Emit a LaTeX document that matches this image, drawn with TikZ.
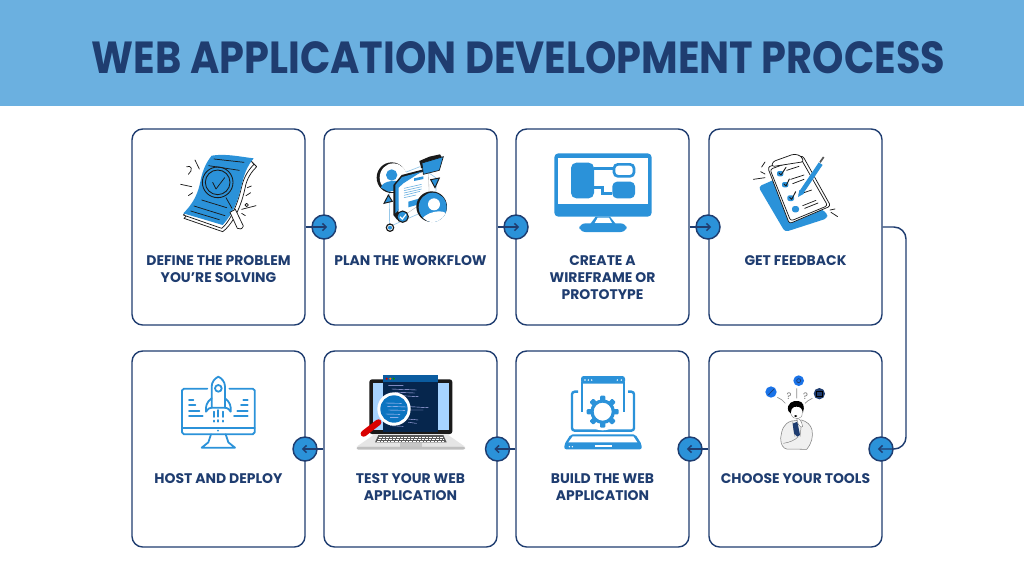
\documentclass[tikz,border=0pt]{standalone}
\usepackage{fontspec}
\usepackage{graphicx}
\setmainfont{Poppins}
\usetikzlibrary{arrows.meta,calc}
\definecolor{band}{HTML}{6BB0E0}
\definecolor{navy}{HTML}{1F3D70}
\definecolor{ico}{HTML}{2B92D9}
\definecolor{ink}{HTML}{1A1A1A}
\definecolor{brightblue}{HTML}{1A73E8}
\definecolor{sky}{HTML}{A6D3FF}
\definecolor{glass}{HTML}{0B74C0}
\definecolor{codebg}{HTML}{06264D}
\definecolor{codebar}{HTML}{0B5CA0}
\tikzset{
  card/.style={draw=navy,line width=1.05pt,rounded corners=8pt,fill=white,minimum width=129.75pt,minimum height=147pt,inner sep=0pt},
  hub/.style={circle,draw=navy,line width=1.1pt,fill=ico,minimum size=18pt,inner sep=0pt},
  link/.style={draw=navy,line width=1.1pt,-{Straight Barb[length=2.8pt,width=5.4pt]}},
  lab/.style={anchor=north,align=center,text=navy,font=\bfseries\fontsize{10.45}{12.75}\selectfont,inner sep=0pt},
  zoomed/.style={x=0.25pt,y=-0.25pt},
  iconline/.style={draw=ico,line width=1.35pt,line cap=round,line join=round},
  thin ink/.style={draw=ink,line width=.55pt,line cap=round,line join=round},
}
\begin{document}
\begin{tikzpicture}[x=0.75pt,y=-0.75pt]
\useasboundingbox (0,0) rectangle (1024,576);
\fill[white] (0,0) rectangle (1024,576);
\fill[band] (0,0) rectangle (1024,106);
\node[inner sep=0pt,text=navy] (title) at (518.5,58) {\resizebox{640pt}{24pt}{\bfseries WEB APPLICATION DEVELOPMENT PROCESS}};

% cards
\node[card] (c1) at (218.5,227) {};
\node[card] (c2) at (410.5,227) {};
\node[card] (c3) at (602.5,227) {};
\node[card] (c4) at (795.5,227) {};
\node[card] (c8) at (218.5,449) {};
\node[card] (c7) at (410.5,449) {};
\node[card] (c6) at (602.5,449) {};
\node[card] (c5) at (795.5,449) {};

% labels
\node[lab] (l1) at (218.5,255.2) {DEFINE THE PROBLEM\\YOU\char"27 RE SOLVING};
\node[lab] (l2) at (410.5,255.2) {PLAN THE WORKFLOW};
\node[lab] (l3) at (602.5,255.2) {CREATE A\\WIREFRAME OR\\PROTOTYPE};
\node[lab] (l4) at (795.5,255.2) {GET FEEDBACK};
\node[lab] (l8) at (218.5,473) {HOST AND DEPLOY};
\node[lab] (l7) at (410.5,473) {TEST YOUR WEB\\APPLICATION};
\node[lab] (l6) at (602.5,473) {BUILD THE WEB\\APPLICATION};
\node[lab] (l5) at (795.5,473) {CHOOSE YOUR TOOLS};

% hubs
\node[hub] (h1) at (324,227) {};
\node[hub] (h2) at (516,227) {};
\node[hub] (h3) at (708,227) {};
\node[hub] (h4) at (881,449) {};
\node[hub] (h5) at (690,449) {};
\node[hub] (h6) at (497.5,449) {};
\node[hub] (h7) at (305,449) {};
\coordinate (t1) at ([xshift=2.4pt]h1.center);
\coordinate (t2) at ([xshift=2.4pt]h2.center);
\coordinate (t3) at ([xshift=2.4pt]h3.center);
\coordinate (t4) at ([xshift=-2.4pt]h4.center);
\coordinate (t5) at ([xshift=-2.4pt]h5.center);
\coordinate (t6) at ([xshift=-2.4pt]h6.center);
\coordinate (t7) at ([xshift=-2.4pt]h7.center);
\draw[link] (c1.east) -- (t1);
\draw[link] (c2.east) -- (t2);
\draw[link] (c3.east) -- (t3);
\draw[link] (c5.west) -- (t5);
\draw[link] (c6.west) -- (t6);
\draw[link] (c7.west) -- (t7);
\coordinate (bendA) at (906,227);
\coordinate (bendB) at (906,449);
\draw[link,rounded corners=9pt] (c4.east) -- (bendA) -- (bendB) -- (t4);

% icon 1: document
\begin{scope}[shift={(130,125)},zoomed]
  \draw[thin ink,fill=white] (162,280) -- (278,320) .. controls (300,305) and (330,260) .. (345,190) .. controls (350,160) and (365,140) .. (380,125) -- (365,110) -- (200,240) -- cycle;
  \draw[thin ink,fill=white] (160,270) -- (275,310) .. controls (295,295) and (320,250) .. (335,185) .. controls (342,155) and (355,135) .. (372,118) -- (360,105) -- (200,230) -- cycle;
  \fill[ico] (245,92) .. controls (285,85) and (330,95) .. (371,100) .. controls (350,125) and (342,150) .. (335,180) .. controls (325,225) and (310,265) .. (278,300) -- (160,265) .. controls (190,235) and (205,205) .. (212,165) .. controls (218,135) and (230,110) .. (245,92) -- cycle;
  \draw[thin ink] (252,102) -- (342,112) (236,122) -- (328,136) (192,243) -- (285,272) (182,258) -- (268,284) (215,225) -- (290,248);
  \draw[draw=ink,line width=.65pt] (263,172) circle (46) (263,172) circle (37);
  \draw[thin ink] (248,172) -- (258,192) -- (284,158);
  \draw[thin ink] (288,218) -- (306,250);
  \draw[thin ink,fill=white] (300,262) -- (316,253) -- (340,303) .. controls (338,312) and (328,315) .. (322,310) -- cycle;
  \draw[thin ink] (195,105) -- (208,132) (152,178) -- (185,185) (175,212) -- (188,203) (170,125) .. controls (185,120) and (190,135) .. (175,148) (352,188) -- (364,183) (348,212) -- (362,203) (335,253) -- (378,242) (335,265) -- (346,272);
  \draw[thin ink] (350,240) circle (5);
\end{scope}

% icon 2: plan
\begin{scope}[shift={(340,135)},zoomed]
  \draw[band!70,line width=.5pt] (148,275) -- (150,130) -- (240,95) -- (290,130) -- (285,215) -- cycle;
  \fill[ink] (155,128) ellipse (45 and 46);
  \fill[white] (160,128) ellipse (41 and 43);
  \fill[ico] (155,120) circle (17);
  \fill[ico] (123,158) .. controls (125,135) and (185,130) .. (192,150) -- (175,165) -- (145,170) -- cycle;
  \draw[ink,fill=ico,line width=.7pt] (145,180) -- (132,205) -- (157,199) -- cycle;
  \draw[ink,fill=ico,line width=.7pt] (272,134) -- (298,129) -- (285,158) -- cycle;
  % sheet
  \fill[ink] (160,150) -- (185,120) -- (262,100) -- (262,108) -- (172,255) -- (160,240) -- cycle;
  \fill[white,draw=black!35,line width=.25pt] (172,155) -- (192,128) -- (265,106) -- (268,190) -- (176,252) -- cycle;
  \fill[ico] (166,150) -- (186,126) -- (245,110) -- (190,145) -- (176,158) -- (176,225) -- (166,235) -- cycle;
  \fill[ico] (222,130) -- (250,124) -- (250,132) -- (222,138) -- cycle;
  \draw[band,line width=.45pt] (192,160) -- (245,148) (192,167) -- (245,155) (192,174) -- (245,162) (192,181) -- (240,169) (192,188) -- (228,180);
  \fill[ico] (205,200) -- (240,190) -- (240,207) -- (205,217) -- cycle;
  % folder
  \fill[ink] (238,78) -- (268,65) -- (300,58) -- (305,66) -- (244,100) -- cycle;
  \draw[ink,fill=ico,line width=.5pt] (246,84) -- (310,65) -- (298,106) -- (250,118) -- cycle;
  % person disc
  \fill[ink] (275,215) ellipse (46 and 46);
  \fill[ico] (278,217) ellipse (42 and 44);
  \begin{scope}
    \clip (278,217) ellipse (42 and 44);
    \fill[white] (282,208) circle (18);
    \fill[white] (240,265) .. controls (245,230) and (320,215) .. (325,245) -- (325,270) -- cycle;
  \end{scope}
  \draw[ink,fill=ico,line width=.8pt] (188,245) circle (17);
  \draw[white,line width=.9pt] (180,245) -- (187,252) -- (198,238);
  \draw[ink,fill=white,line width=.9pt] (150,278) circle (11);
  \fill[ico] (150,278) circle (6);
\end{scope}

% icon 3: monitor
\begin{scope}[shift={(530,135)},zoomed]
  \fill[ico,rounded corners=3pt] (73,55) rectangle (365,245);
  \fill[white] (85,68) rectangle (353,208);
  \fill[ico] (197,245) -- (240,245) -- (258,268) -- (180,268) -- cycle;
  \fill[white] (203,248) -- (237,248) -- (246,264) -- (194,264) -- cycle;
  \fill[ico,rounded corners=4.5pt] (148,265) rectangle (290,291);
  \fill[ico,rounded corners=4pt] (123,83) rectangle (192,190);
  \fill[ico,rounded corners=3.5pt] (247,140) rectangle (315,190);
  \draw[ico,line width=2pt,rounded corners=3pt] (252,88) rectangle (312,124);
  \draw[ico,line width=2pt] (192,100) -- (252,100);
  \draw[ico,line width=2pt] (192,157) -- (217,157) -- (217,175) -- (247,175);
\end{scope}

% icon 4: clipboard
\begin{scope}[shift={(730,135)},zoomed]
  \fill[ico,rounded corners=2.5pt] (85,155) -- (135,133) -- (292,235) -- (292,250) -- (165,291) -- cycle;
  \draw[thin ink,fill=white,rounded corners=2pt] (113,97) -- (125,92) -- (218,62) -- (302,213) -- (178,266) -- cycle;
  \draw[thin ink,rounded corners=2pt] (120,103) -- (212,70) -- (293,212) -- (182,258) -- cycle;
  \draw[thin ink,fill=white,rounded corners=2pt] (125,95) -- (128,80) -- (192,57) -- (212,62) -- (222,80) -- cycle;
  \fill[ico,rounded corners=1.5pt] (141,108) rectangle (160,124);
  \fill[ico,rounded corners=1.5pt] (156,141) rectangle (175,157);
  \fill[ico,rounded corners=1.5pt] (172,181) rectangle (192,198);
  \fill[ico,rounded corners=2pt] (186,213) rectangle (207,232);
  \draw[thin ink,line width=.7pt] (147,114) -- (153,120) -- (168,97) (162,147) -- (168,153) -- (178,132) (179,187) -- (185,193) -- (197,170);
  \draw[thin ink] (170,106) -- (207,94) (182,133) -- (222,120) (188,146) -- (222,133) (207,178) -- (245,165) (218,212) -- (258,196) (224,220) -- (264,204);
  \draw[ico,line width=3.4pt] (214,172) -- (272,86);
  \fill[ico] (204,186) -- (208,165) -- (222,176) -- cycle;
  \draw[black!65,line width=1.3pt] (270,82) -- (281,66);
  \draw[thin ink] (70,133) -- (105,128) (95,96) -- (105,81) (92,110) -- (105,117) (300,225) -- (315,222) (303,232) -- (323,245);
\end{scope}

% icon 5: rocket
\begin{scope}[shift={(160,365)},zoomed]
  \draw[iconline] (142,71) -- (72,71) -- (66,76) -- (66,202) -- (72,208) -- (278,208) -- (284,202) -- (284,76) -- (278,71) -- (208,71);
  \draw[iconline] (66,190) -- (284,190);
  \fill[ico] (174,197) circle (3);
  \draw[iconline] (153,208) -- (145,232) -- (125,248) -- (225,248) -- (205,232) -- (197,208);
  \draw[iconline] (155,128) -- (155,65) .. controls (155,50) and (165,40) .. (175,35) .. controls (185,40) and (195,50) .. (195,65) -- (195,128) -- cycle;
  \draw[iconline] (175,70) circle (10);
  \draw[iconline] (155,100) .. controls (140,110) and (136,125) .. (138,140) .. controls (145,130) and (150,128) .. (155,128);
  \draw[iconline] (195,100) .. controls (210,110) and (214,125) .. (212,140) .. controls (205,130) and (200,128) .. (195,128);
  \draw[iconline,dash pattern=on 4pt off 2.6pt] (162,140) -- (162,170);
  \draw[iconline,dash pattern=on 5pt off 2.6pt] (175,135) -- (175,170);
  \draw[iconline,dash pattern=on 4pt off 2.6pt] (188,140) -- (188,170);
  \draw[iconline] (87,105) -- (100,105) (87,120) -- (106,120) (87,137) -- (118,137) (87,153) -- (128,153);
  \draw[iconline] (250,105) -- (263,105) (243,120) -- (263,120) (232,137) -- (263,137) (222,153) -- (263,153);
\end{scope}

% icon 6: laptop with magnifier
\begin{scope}[shift={(345,365)},zoomed]
  \fill[ink,rounded corners=2pt] (73,43) rectangle (322,207);
  \fill[sky] (85,55) rectangle (118,195);
  \fill[sky] (280,55) rectangle (312,195);
  \fill[codebg] (115,30) rectangle (280,200);
  \fill[codebar] (115,30) rectangle (280,50);
  \fill[red!80!black] (125,41) circle (3.5);
  \fill[orange] (136,41) circle (3.5);
  \fill[green!60!black] (146,41) circle (3.5);
  \draw[white!75!blue,line width=.3pt]
    (130,62) -- (175,62) (140,72) -- (215,75) (150,82) -- (210,84) (170,92) -- (220,95)
    (195,125) -- (250,128) (195,135) -- (235,135) (190,162) -- (220,165) (190,172) -- (215,175) (135,182) -- (175,184);
  \fill[black!10] (90,207) -- (305,207) -- (360,245) -- (35,245) -- cycle;
  \fill[black!65] (100,210) -- (295,210) -- (305,232) -- (90,232) -- cycle;
  \draw[white,line width=.25pt,dash pattern=on 2pt off .7pt] (102,215) -- (293,215) (100,221) -- (298,221) (96,227) -- (300,227);
  \fill[black!22] (165,234) rectangle (230,245);
  \fill[black!25,rounded corners=1.5pt] (35,245) rectangle (360,254);
  \draw[red!85!black,line width=4.6pt,line cap=round] (100,172) -- (56,206);
  \fill[white] (147,132) circle (50);
  \fill[glass] (147,132) circle (41);
  \draw[white!80!blue,line width=.3pt] (122,114) -- (170,115) (127,124) -- (185,126) (130,135) -- (180,136) (122,147) -- (165,148) (135,158) -- (160,158);
\end{scope}

% icon 7: gear laptop
\begin{scope}[shift={(550,365)},zoomed]
  \draw[ico,line width=1.8pt,rounded corners=2pt] (84,80) -- (66,80) -- (66,197) -- (252,197) -- (252,80) -- (234,80);
  \fill[ico,rounded corners=2pt] (93,33) rectangle (225,56);
  \draw[ico,line width=1.5pt] (96,50) -- (96,140) (222,50) -- (222,140);
  \fill[white] (105,45) circle (2.5) (115,45) circle (2.5) (125,45) circle (2.5) (202,45) circle (2.5) (214,45) circle (2.5);
  \fill[white] (158,140) circle (56);
  \foreach \a in {0,45,...,315}{
    \fill[ico,rotate around={\a:(158,140)},rounded corners=.8pt] (150,92) rectangle (166,112);
  }
  \draw[ico,line width=2.4pt] (158,140) circle (32);
  \fill[ico,rounded corners=1.5pt] (62,208) -- (256,208) -- (275,238) -- (275,253) -- (43,253) -- (43,238) -- cycle;
  \fill[white] (68,214) -- (250,214) -- (262,232) -- (55,232) -- cycle;
  \fill[white] (58,245) circle (2.3) (67,245) circle (2.3);
  \draw[white,line width=1pt] (134,243) -- (185,243);
\end{scope}

% icon 8: thinker
\begin{scope}[shift={(750,365)},zoomed]
  \fill[brightblue] (63,81) circle (17);
  \fill[brightblue] (146,47) circle (16);
  \fill[navy] (208,86) circle (17);
  \draw[navy,line width=.5pt] (55,90) -- (72,72);
  \draw[navy,line width=.5pt] (146,47) circle (6);
  \draw[black,line width=.5pt] (200,78) rectangle (216,94);
  \draw[black!45,line width=.5pt] (82,97) .. controls (92,100) and (100,108) .. (106,115) (140,70) -- (140,100) (187,100) .. controls (178,103) and (170,110) .. (165,115);
  \node[text=black!55,font=\fontsize{7}{7}\selectfont,inner sep=0pt] (q1) at (117,95) {?};
  \node[text=black!55,font=\fontsize{7}{7}\selectfont,inner sep=0pt] (q2) at (167,93) {?};
  \draw[black!50,fill=black!6,line width=.4pt] (125,168) .. controls (100,175) and (95,195) .. (92,220) .. controls (92,240) and (100,250) .. (110,252) -- (170,253) .. controls (185,235) and (190,215) .. (186,195) .. controls (182,178) and (170,170) .. (155,165) -- cycle;
  \draw[black!50,line width=.35pt] (100,235) .. controls (120,232) and (135,225) .. (145,215) (128,170) -- (135,215) (155,170) -- (150,215);
  \fill[navy] (128,176) -- (142,170) -- (150,210) -- (142,215) -- (132,205) -- cycle;
  \fill[white,draw=black!50,line width=.3pt] (120,130) .. controls (120,160) and (140,168) .. (155,155) -- (160,125) -- (125,115) -- cycle;
  \fill[black] (115,138) .. controls (108,115) and (130,105) .. (145,108) .. controls (160,110) and (165,125) .. (159,142) .. controls (156,130) and (150,125) .. (140,125) .. controls (135,125) and (128,125) .. (125,132) -- (122,145) -- cycle;
  \fill[black] (137,153) ellipse (5 and 3);
  \draw[black!50,fill=white,line width=.3pt] (140,160) .. controls (150,160) and (155,170) .. (158,185) .. controls (155,190) and (150,185) .. (145,178) -- cycle;
\end{scope}
\end{tikzpicture}
\end{document}
